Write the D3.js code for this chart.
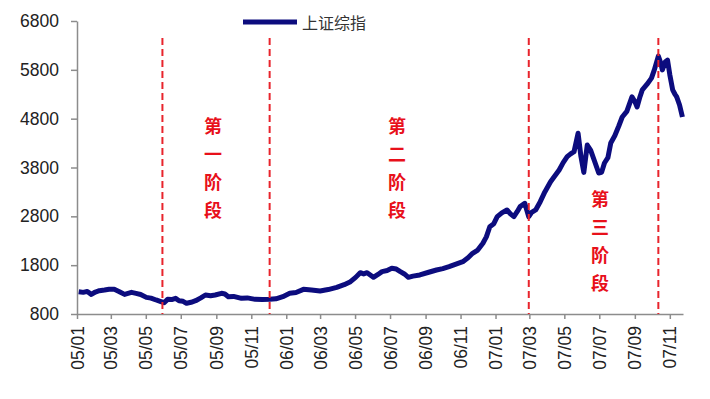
<!DOCTYPE html>
<html>
<head>
<meta charset="utf-8">
<script src="https://cdn.jsdelivr.net/npm/d3@7"></script>
<style>
  body { margin: 0; background: #fff; }
  svg { display: block; }
</style>
</head>
<body>
<script>
// Shanghai Composite
var dates = [
  "2005-01-04","2005-01-12","2005-01-19","2005-01-26","2005-02-02","2005-02-09","2005-02-18","2005-02-26",
  "2005-03-07","2005-03-16","2005-03-25","2005-04-06","2005-04-14","2005-04-22","2005-05-02","2005-05-10",
  "2005-05-19","2005-05-26","2005-06-02","2005-06-08","2005-06-15","2005-06-22","2005-06-28","2005-07-05",
  "2005-07-11","2005-07-19","2005-07-27","2005-08-05","2005-08-13","2005-08-22","2005-08-30","2005-09-10",
  "2005-09-16","2005-09-22","2005-10-01","2005-10-15","2005-10-25","2005-11-08","2005-11-20","2005-12-03",
  "2005-12-14","2005-12-26","2006-01-07","2006-01-18","2006-01-31","2006-02-14","2006-03-01","2006-03-15",
  "2006-03-30","2006-04-12","2006-04-23","2006-05-02","2006-05-10","2006-05-16","2006-05-22","2006-06-02",
  "2006-06-10","2006-06-17","2006-06-26","2006-07-04","2006-07-12","2006-07-19","2006-07-26","2006-08-02",
  "2006-08-10","2006-08-22","2006-09-05","2006-09-20","2006-10-01","2006-10-12","2006-10-24","2006-11-05",
  "2006-11-14","2006-11-22","2006-12-01","2006-12-10","2006-12-16","2006-12-22","2006-12-29","2007-01-04",
  "2007-01-12","2007-01-21","2007-01-27","2007-02-02","2007-02-08","2007-02-13","2007-02-21","2007-02-28",
  "2007-03-05","2007-03-12","2007-03-20","2007-03-28","2007-04-07","2007-04-14","2007-04-22","2007-04-29",
  "2007-05-06","2007-05-12","2007-05-18","2007-05-25","2007-05-30","2007-06-04","2007-06-10","2007-06-16",
  "2007-06-22","2007-06-30","2007-07-05","2007-07-10","2007-07-16","2007-07-21","2007-07-28","2007-08-04",
  "2007-08-10","2007-08-18","2007-08-27","2007-09-01","2007-09-05","2007-09-10","2007-09-14","2007-09-22",
  "2007-09-30","2007-10-05","2007-10-12","2007-10-16","2007-10-19","2007-10-24","2007-10-28","2007-11-01",
  "2007-11-06","2007-11-10","2007-11-13","2007-11-18","2007-11-23"
];
var values = [
  1257, 1243, 1262, 1202, 1250, 1277, 1290, 1305,
  1305, 1257, 1202, 1243, 1222, 1200, 1140, 1125,
  1087, 1060, 1031, 1100, 1095, 1121, 1072, 1060,
  1019, 1040, 1072, 1130, 1189, 1175, 1189, 1224,
  1210, 1155, 1160, 1121, 1130, 1100, 1095, 1100,
  1110, 1155, 1224, 1240, 1305, 1290, 1271, 1300,
  1346, 1400, 1462, 1550, 1646, 1620, 1646, 1551,
  1610, 1667, 1690, 1736, 1720, 1667, 1620, 1551,
  1575, 1599, 1650, 1701, 1730, 1770, 1820, 1871,
  1950, 2043, 2110, 2248, 2380, 2588, 2650, 2793,
  2870, 2930, 2850, 2793, 2900, 3000, 3067, 2793,
  2880, 2930, 3100, 3300, 3509, 3620, 3749, 3900,
  4022, 4080, 4125, 4500, 4022, 3700, 4261, 4150,
  3954, 3687, 3700, 3892, 4000, 4302, 4450, 4650,
  4834, 4950, 5245, 5150, 5040, 5250, 5390, 5500,
  5630, 5800, 6080, 5950, 5800, 5960, 6000, 5700,
  5390, 5300, 5245, 5080, 4834
];

var yTicks = [800, 1800, 2800, 3800, 4800, 5800, 6800];
var phaseDates = ["2005-05-30", "2005-12-03", "2007-02-28", "2007-10-12"];
var phaseNames = [["第","一","阶","段"], ["第","二","阶","段"], ["第","三","阶","段"]];
var seriesName = "上证综指";

var parse = d3.timeParse("%Y-%m-%d");
var data = dates.map(function(d, i) { return { date: parse(d), value: values[i] }; });

var width = 710, height = 399;
var svg = d3.select("body").append("svg")
    .attr("width", width)
    .attr("height", height);

var x = d3.scaleTime()
    .domain([new Date(2005, 0, 1), new Date(2007, 10, 24)])
    .range([77, 683]);

var y = d3.scaleLinear()
    .domain([800, 6800])
    .range([314, 21]);

// y axis
var yAxis = svg.append("g")
    .attr("transform", "translate(77,0)")
    .call(d3.axisLeft(y).tickValues(yTicks).tickFormat(d3.format("d"))
        .tickSize(6).tickSizeOuter(0).tickPadding(12));
yAxis.selectAll("text")
    .style("font-family", "'Liberation Sans', Arial, sans-serif")
    .style("font-size", "17.5px")
    .attr("fill", "#222");

// x axis: a tick every two months
var xTicks = d3.timeMonth.every(2).range(new Date(2005, 0, 1), new Date(2007, 11, 1));
var xAxis = svg.append("g")
    .attr("transform", "translate(0,314)")
    .call(d3.axisBottom(x).tickValues(xTicks).tickFormat(d3.timeFormat("%y/%m")).tickSize(5).tickSizeOuter(0));
xAxis.selectAll("text")
    .style("font-family", "'Liberation Sans', Arial, sans-serif")
    .style("font-size", "17.5px")
    .attr("fill", "#222")
    .attr("text-anchor", "end")
    .attr("transform", "rotate(-90)")
    .attr("x", -12)
    .attr("y", 0)
    .attr("dy", "0.35em");

svg.selectAll(".domain, .tick line")
    .attr("stroke", "#8c8c8c")
    .attr("stroke-width", 1.5);

// index line
var line = d3.line()
    .x(function(d) { return x(d.date); })
    .y(function(d) { return y(d.value); });

svg.append("path")
    .datum(data)
    .attr("fill", "none")
    .attr("stroke", "#0c0c7e")
    .attr("stroke-width", 5)
    .attr("stroke-linejoin", "round")
    .attr("d", line);

// phase boundaries
svg.selectAll(".phase")
    .data(phaseDates)
    .enter()
    .append("line")
    .attr("class", "phase")
    .attr("x1", function(d) { return x(parse(d)); })
    .attr("x2", function(d) { return x(parse(d)); })
    .attr("y1", 38)
    .attr("y2", 314)
    .attr("stroke", "#e8242c")
    .attr("stroke-width", 2)
    .attr("stroke-dasharray", "7,4");

// phase labels, written vertically
var labelX = [213, 397, 600];
var labelTop = [125, 125, 198];
phaseNames.forEach(function(chars, i) {
    svg.append("g").selectAll("text")
        .data(chars)
        .enter()
        .append("text")
        .attr("x", labelX[i])
        .attr("y", function(d, j) { return labelTop[i] + j * 28; })
        .attr("text-anchor", "middle")
        .attr("dominant-baseline", "central")
        .style("font-family", "'Noto Sans CJK SC', sans-serif")
        .style("font-size", "18px")
        .style("font-weight", "bold")
        .attr("fill", "#e8101a")
        .text(function(d) { return d; });
});

// legend
svg.append("line")
    .attr("x1", 243).attr("x2", 297)
    .attr("y1", 22).attr("y2", 22)
    .attr("stroke", "#0c0c7e")
    .attr("stroke-width", 5);
svg.append("text")
    .attr("x", 302)
    .attr("y", 22)
    .attr("dominant-baseline", "central")
    .style("font-family", "'Noto Sans CJK SC', sans-serif")
    .style("font-size", "16px")
    .attr("fill", "#333")
    .text(seriesName);
</script>
</body>
</html>
